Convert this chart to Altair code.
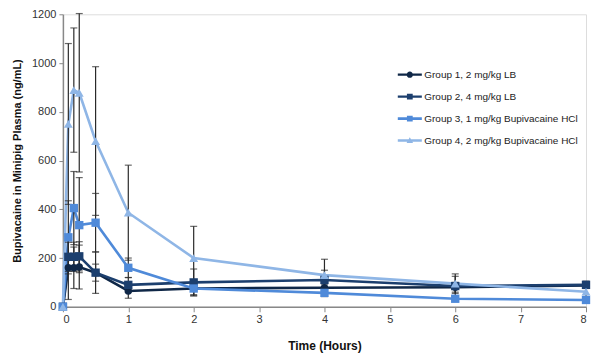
import altair as alt
import pandas as pd

times = [0, 0.083, 0.167, 0.25, 0.5, 1, 2, 4, 6, 8]
groups = [
    "Group 1, 2 mg/kg LB",
    "Group 2, 4 mg/kg LB",
    "Group 3, 1 mg/kg Bupivacaine HCl",
    "Group 4, 2 mg/kg Bupivacaine HCl",
]
g1_mean = [0, 160, 160, 163, 140, 65, 75, 78, 80, 88]
g1_err = [0, 130, 85, 90, 85, 30, 30, 15, 20, 10]
g2_mean = [0, 205, 205, 207, 140, 90, 100, 110, 85, 90]
g2_err = [0, 60, 60, 60, 35, 30, 55, 40, 40, 15]
g3_mean = [0, 285, 405, 335, 345, 160, 75, 57, 33, 28]
g3_err = [0, 150, 150, 195, 120, 40, 25, 15, 10, 8]
g4_mean = [0, 750, 889, 878, 680, 386, 200, 130, 95, 62]
g4_err = [0, 330, 255, 325, 305, 195, 130, 65, 40, 20]

colors = ["#0f2747", "#1c3f6e", "#4f8ad9", "#8fb6e6"]
legend_paths = [
    "M-1,-0.09 L1,-0.09 L1,0.09 L-1,0.09 Z M-0.26,0 A0.26,0.26 0 1,1 0.26,0 A0.26,0.26 0 1,1 -0.26,0 Z",
    "M-1,-0.09 L1,-0.09 L1,0.09 L-1,0.09 Z M-0.24,-0.24 L0.24,-0.24 L0.24,0.24 L-0.24,0.24 Z",
    "M-1,-0.11 L1,-0.11 L1,0.11 L-1,0.11 Z M-0.24,-0.24 L0.24,-0.24 L0.24,0.24 L-0.24,0.24 Z",
    "M-1,-0.1 L1,-0.1 L1,0.1 L-1,0.1 Z M0,-0.27 L0.27,0.2 L-0.27,0.2 Z",
]

means = [g1_mean, g2_mean, g3_mean, g4_mean]
errs = [g1_err, g2_err, g3_err, g4_err]
rows = []
for gi, g in enumerate(groups):
    for t, m, e in zip(times, means[gi], errs[gi]):
        rows.append({"group": g, "order": gi, "t": t, "mean": m,
                     "lo": max(m - e, 0), "hi": m + e})
df = pd.DataFrame(rows)

font = "Liberation Sans"
xs = alt.Scale(domain=[0, 8], nice=False)
ys = alt.Scale(domain=[0, 1200], nice=False)
cs = alt.Scale(domain=groups, range=colors)

base = alt.Chart(df)

x_enc = alt.X("t:Q", scale=xs, title="Time (Hours)",
              axis=alt.Axis(values=list(range(9)), grid=False, format="d",
                            titleFontWeight="bold", titleFontSize=12, titlePadding=16,
                            labelFontSize=11, labelColor="#333333", titleColor="#111111",
                            domainColor="#888888", domainWidth=1.5, tickColor="#888888",
                            tickSize=5, labelFont=font, titleFont=font))
y_enc = alt.Y("mean:Q", scale=ys, title="Bupivacaine in Minipig Plasma (ng/mL)",
              axis=alt.Axis(values=[0, 200, 400, 600, 800, 1000, 1200], grid=False, format="d",
                            titleFontWeight="bold", titleFontSize=11, titlePadding=9,
                            labelFontSize=11, labelColor="#333333", titleColor="#111111",
                            domainColor="#888888", domainWidth=1.5, tickColor="#888888",
                            tickSize=4, labelPadding=3, labelFont=font, titleFont=font))

err_rule = base.mark_rule(color="#2a2a2a", strokeWidth=1.2).encode(
    x=alt.X("t:Q", scale=xs), y=alt.Y("lo:Q", scale=ys), y2="hi:Q")
cap_hi = base.mark_tick(color="#2a2a2a", thickness=1.2, size=7, orient="horizontal").encode(
    x=alt.X("t:Q", scale=xs), y=alt.Y("hi:Q", scale=ys))
cap_lo = base.mark_tick(color="#2a2a2a", thickness=1.2, size=7, orient="horizontal").encode(
    x=alt.X("t:Q", scale=xs), y=alt.Y("lo:Q", scale=ys))

lines = base.mark_line(strokeWidth=2.6).encode(
    x=x_enc, y=y_enc,
    color=alt.Color("group:N", scale=cs, legend=None),
    detail="group:N", order="t:Q")

circles = base.transform_filter(alt.datum.order == 0).mark_point(
    shape="circle", filled=True, size=55, opacity=1).encode(
    x=alt.X("t:Q", scale=xs), y=alt.Y("mean:Q", scale=ys),
    color=alt.Color("group:N", scale=cs, legend=None))
squares = base.transform_filter((alt.datum.order == 1) | (alt.datum.order == 2)).mark_point(
    shape="square", filled=True, size=70, opacity=1).encode(
    x=alt.X("t:Q", scale=xs), y=alt.Y("mean:Q", scale=ys),
    color=alt.Color("group:N", scale=cs, legend=None))
tris = base.transform_filter(alt.datum.order == 3).mark_point(
    shape="triangle-up", filled=True, size=80, opacity=1).encode(
    x=alt.X("t:Q", scale=xs), y=alt.Y("mean:Q", scale=ys),
    color=alt.Color("group:N", scale=cs, legend=None))

main = alt.layer(lines, err_rule, cap_hi, cap_lo, circles, squares, tris)

leg = alt.Legend(title=None, orient="none", legendX=335, legendY=48,
                 symbolSize=580, labelFontSize=10, labelFont=font,
                 labelColor="#222222", rowPadding=4,
                 symbolStrokeWidth=0, labelOffset=2)
legend_layer = base.transform_filter("false").mark_point(filled=True, opacity=1).encode(
    x=alt.X("t:Q", scale=xs), y=alt.Y("mean:Q", scale=ys),
    shape=alt.Shape("group:N", scale=alt.Scale(domain=groups, range=legend_paths), legend=leg),
    color=alt.Color("group:N", scale=alt.Scale(domain=groups, range=colors), legend=leg))

chart = alt.layer(main, legend_layer).resolve_scale(
    color="independent", shape="independent"
).properties(
    width=524, height=293,
    padding={"left": 3, "top": 0, "right": 0, "bottom": 2},
).configure_view(stroke=None).configure(background="white")

chart.save("out.html", embed_options={"renderer": "svg", "actions": False})
